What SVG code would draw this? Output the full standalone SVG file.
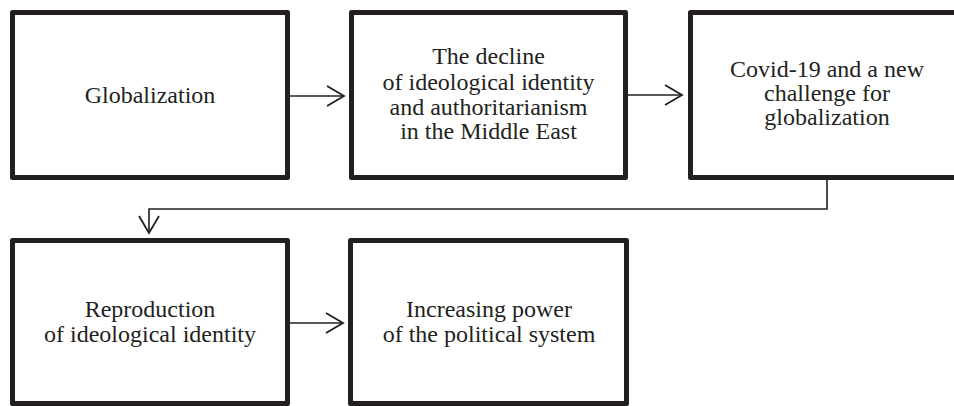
<svg xmlns="http://www.w3.org/2000/svg" width="954" height="406" viewBox="0 0 954 406">
  <style>
    .box { fill: #ffffff; stroke: #231f20; stroke-width: 5; stroke-linejoin: round; }
    .lbl { font-family: "Liberation Serif", "Times New Roman", serif; font-size: 24px; fill: #231f20; text-anchor: middle; }
    .conn { fill: none; stroke: #231f20; stroke-width: 1.6; }
  </style>
  <defs>
    <marker id="arrow" viewBox="0 0 20 22" refX="18" refY="11" markerWidth="20" markerHeight="22" markerUnits="userSpaceOnUse" orient="auto" overflow="visible">
      <path d="M1,1 L18,11 L1,21" fill="none" stroke="#231f20" stroke-width="1.8" stroke-linejoin="miter"/>
    </marker>
  </defs>
  <rect width="954" height="406" fill="#ffffff"/>

  <g id="node-globalization">
    <rect class="box" x="12.5" y="12.5" width="275" height="165"/>
    <text class="lbl" x="150" y="103">Globalization</text>
  </g>

  <g id="node-decline">
    <rect class="box" x="351.5" y="12.5" width="274" height="165"/>
    <text class="lbl" x="488.5" y="64">The decline</text>
    <text class="lbl" x="488.5" y="90">of ideological identity</text>
    <text class="lbl" x="488.5" y="115">and authoritarianism</text>
    <text class="lbl" x="488.5" y="139">in the Middle East</text>
  </g>

  <g id="node-covid">
    <rect class="box" x="690.5" y="12.5" width="275" height="165"/>
    <text class="lbl" x="827" y="77">Covid-19 and a new</text>
    <text class="lbl" x="827" y="101">challenge for</text>
    <text class="lbl" x="827" y="125">globalization</text>
  </g>

  <g id="node-reproduction">
    <rect class="box" x="12.5" y="240.5" width="275" height="163"/>
    <text class="lbl" x="150" y="317">Reproduction</text>
    <text class="lbl" x="150" y="342">of ideological identity</text>
  </g>

  <g id="node-power">
    <rect class="box" x="350.5" y="240.5" width="276" height="163"/>
    <text class="lbl" x="489" y="317">Increasing power</text>
    <text class="lbl" x="489" y="342">of the political system</text>
  </g>

  <g id="connectors">
    <path class="conn" d="M290,96 L344,96" marker-end="url(#arrow)"/>
    <path class="conn" d="M628,95 L682,95" marker-end="url(#arrow)"/>
    <path class="conn" d="M827,180 L827,209 L149,209 L149,233" marker-end="url(#arrow)"/>
    <path class="conn" d="M290,323 L343,323" marker-end="url(#arrow)"/>
  </g>
</svg>
